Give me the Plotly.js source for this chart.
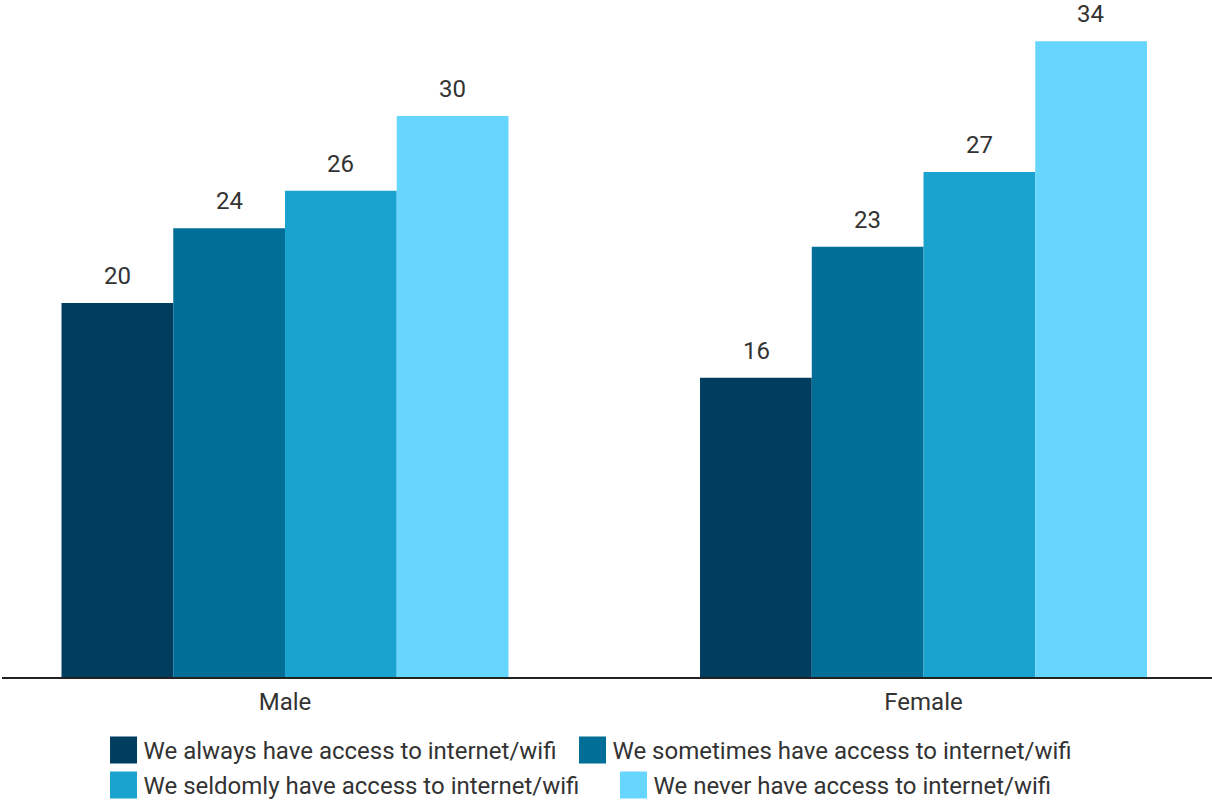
<!DOCTYPE html>
<html>
<head>
<meta charset="utf-8">
<script src="https://cdn.plot.ly/plotly-3.0.1.min.js"></script>
<style>html,body{margin:0;padding:0;background:#fff;}#chart{width:1212px;height:803px;}</style>
</head>
<body>
<div id="chart"></div>
<script>
const categories = ["Male", "Female"];
const seriesNames = [
  "We always have access to internet/wifi",
  "We sometimes have access to internet/wifi",
  "We seldomly have access to internet/wifi",
  "We never have access to internet/wifi"
];
const always = [20, 16];
const sometimes = [24, 23];
const seldomly = [26, 27];
const never = [30, 34];
const colors = ["#003d5f", "#006e96", "#1aa3cf", "#66d6ff"];
const legendIds = ["legend", "legend2", "legend3", "legend4"];

const seriesValues = [always, sometimes, seldomly, never];
const FONT = "Roboto, 'Noto Sans', sans-serif";

const traces = seriesValues.map((vals, i) => ({
  type: "bar",
  name: seriesNames[i],
  x: categories,
  y: vals,
  legend: legendIds[i],
  marker: {color: colors[i], line: {width: 0}},
  hoverinfo: "none"
}));

const barPx = 111.6;
const annotations = [];
seriesValues.forEach((vals, i) => {
  vals.forEach((v, j) => {
    annotations.push({
      x: categories[j], y: v, xref: "x", yref: "y",
      text: String(v), showarrow: false,
      xanchor: "center", yanchor: "bottom",
      xshift: (i - 1.5) * barPx, yshift: 11,
      font: {family: FONT, size: 24, color: "#333333"}
    });
  });
});

const legendFont = {family: FONT, size: 24, color: "#333333"};
const legendPos = [[0.0839, -0.075], [0.4715, -0.075], [0.0839, -0.1267], [0.5054, -0.1267]];

const layout = {
  width: 1212, height: 803,
  margin: {l: 2, r: 0, t: 0, b: 126, autoexpand: false},
  paper_bgcolor: "#ffffff", plot_bgcolor: "#ffffff",
  barmode: "group", bargap: 0.30, bargroupgap: 0,
  font: {family: FONT, size: 24, color: "#333333"},
  xaxis: {
    type: "category", range: [-0.4432, 1.4518],
    showline: true, linecolor: "#222222", linewidth: 2,
    showgrid: false, zeroline: false, ticks: "", ticklabelstandoff: 2,
    tickfont: {family: FONT, size: 24, color: "#333333"}
  },
  yaxis: {
    range: [0, 36.2], showgrid: false, zeroline: false,
    showticklabels: false, showline: false, ticks: ""
  },
  showlegend: true,
  annotations: annotations
};
legendIds.forEach((id, i) => {
  layout[id] = {
    orientation: "h", x: legendPos[i][0], xanchor: "left", y: legendPos[i][1], yanchor: "top",
    bgcolor: "rgba(0,0,0,0)",
    font: legendFont, itemclick: false, itemdoubleclick: false
  };
});

Plotly.newPlot("chart", traces, layout, {displayModeBar: false, staticPlot: true}).then(() => {
  document.querySelectorAll('.legendpoints path').forEach(p => {
    const t = p.getAttribute('transform') || '';
    p.setAttribute('transform', t + ' scale(2.25)');
  });
});
</script>
</body>
</html>
